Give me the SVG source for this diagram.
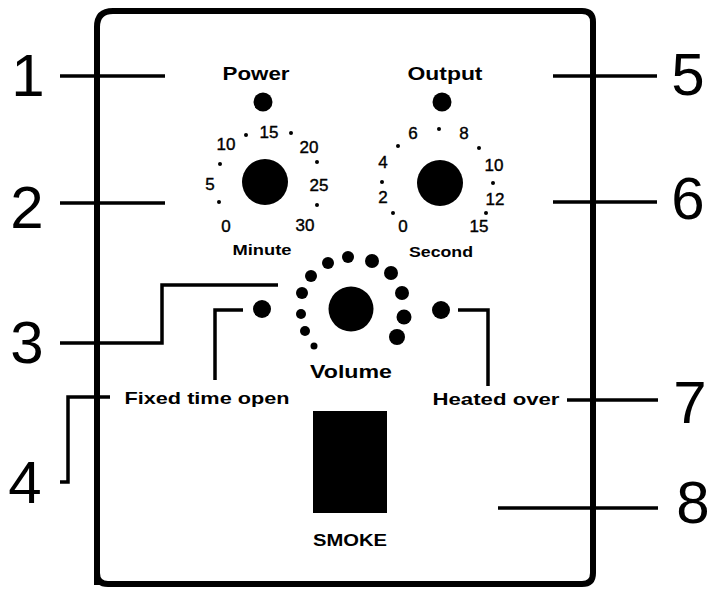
<svg xmlns="http://www.w3.org/2000/svg" width="713" height="589" viewBox="0 0 713 589">
<style>
.lead{fill:none;stroke:#000;stroke-width:3.5}
.num{font-family:"Liberation Sans",Arial,sans-serif;font-size:60px;fill:#000;text-anchor:middle}
.lbl{font-family:"Liberation Sans",Arial,sans-serif;font-weight:bold;fill:#000;text-anchor:middle}
.dig{font-family:"Liberation Sans",Arial,sans-serif;font-size:17px;fill:#000;text-anchor:middle;stroke:#000;stroke-width:0.4}
.tick{fill:#000}
</style>
<rect width="713" height="589" fill="#fff"/>
<g id="panel">
<path d="M97,585 V27 Q97,11 113,11 H582 Q593,11 593,22 V573 Q593,584 582,584 H108 Q97,584 97,573 Z" fill="none" stroke="#000" stroke-width="6"/>
</g>
<g id="connectors">
<line class="lead" x1="60" y1="76" x2="165" y2="76"/>
<line class="lead" x1="60" y1="203" x2="165" y2="203"/>
<polyline class="lead" points="60,343 162,343 162,285 278,285"/>
<polyline class="lead" points="60,482 68,482 68,397 110,397"/>
<polyline class="lead" points="215,380 215,310 243,310"/>
<polyline class="lead" points="458,310 488,310 488,386"/>
<line class="lead" x1="553" y1="76" x2="657" y2="76"/>
<line class="lead" x1="553" y1="202" x2="657" y2="202"/>
<line class="lead" x1="567" y1="400" x2="658" y2="400"/>
<line class="lead" x1="498" y1="508" x2="658" y2="508"/>
</g>
<g id="callouts">
<text class="num" x="28" y="96">1</text>
<text class="num" x="27" y="228">2</text>
<text class="num" x="27" y="363">3</text>
<text class="num" x="25" y="503">4</text>
<text class="num" x="688" y="95">5</text>
<text class="num" x="688" y="219">6</text>
<text class="num" x="690" y="423">7</text>
<text class="num" x="693" y="523">8</text>
</g>
<g id="power">
<text class="lbl" x="256" y="80" font-size="19" textLength="67" lengthAdjust="spacingAndGlyphs">Power</text>
<circle cx="263" cy="102" r="9.5"/>
</g>
<g id="output">
<text class="lbl" x="445" y="80" font-size="19" textLength="75" lengthAdjust="spacingAndGlyphs">Output</text>
<circle cx="442" cy="102" r="9.5"/>
</g>
<g id="minute-dial">
<circle cx="265" cy="182" r="23"/>
<text class="dig" x="269" y="138">15</text>
<text class="dig" x="226" y="150">10</text>
<text class="dig" x="309" y="153">20</text>
<text class="dig" x="210" y="190">5</text>
<text class="dig" x="319" y="191">25</text>
<text class="dig" x="226" y="232">0</text>
<text class="dig" x="305" y="231">30</text>
<circle class="tick" cx="246" cy="135" r="2"/>
<circle class="tick" cx="291" cy="133" r="2"/>
<circle class="tick" cx="220" cy="164" r="2"/>
<circle class="tick" cx="317" cy="162" r="2"/>
<circle class="tick" cx="219" cy="202" r="2"/>
<circle class="tick" cx="317" cy="205" r="2"/>
<text class="lbl" x="262" y="255" font-size="14" textLength="59" lengthAdjust="spacingAndGlyphs">Minute</text>
</g>
<g id="second-dial">
<circle cx="440" cy="183" r="23"/>
<text class="dig" x="413" y="139">6</text>
<text class="dig" x="464" y="139">8</text>
<text class="dig" x="383" y="168">4</text>
<text class="dig" x="494" y="171">10</text>
<text class="dig" x="383" y="203">2</text>
<text class="dig" x="495" y="205">12</text>
<text class="dig" x="403" y="232">0</text>
<text class="dig" x="479" y="232">15</text>
<circle class="tick" cx="439" cy="129" r="2"/>
<circle class="tick" cx="398" cy="146" r="2"/>
<circle class="tick" cx="479" cy="148" r="2"/>
<circle class="tick" cx="382" cy="182" r="2"/>
<circle class="tick" cx="493" cy="183" r="2"/>
<circle class="tick" cx="393" cy="213" r="2"/>
<circle class="tick" cx="486" cy="213" r="2"/>
<text class="lbl" x="441" y="257" font-size="14" textLength="64" lengthAdjust="spacingAndGlyphs">Second</text>
</g>
<g id="volume">
<circle cx="351" cy="309" r="22.5"/>
<circle cx="328" cy="263" r="6"/>
<circle cx="348" cy="257" r="6"/>
<circle cx="372" cy="261" r="7"/>
<circle cx="391" cy="273" r="7"/>
<circle cx="311" cy="276" r="6"/>
<circle cx="302" cy="293" r="6"/>
<circle cx="402" cy="293" r="7"/>
<circle cx="301" cy="314" r="5"/>
<circle cx="404" cy="317" r="7.5"/>
<circle cx="305" cy="331" r="5"/>
<circle cx="397" cy="337" r="8"/>
<circle cx="314" cy="346" r="3.5"/>
<text class="lbl" x="351" y="378" font-size="19" textLength="82" lengthAdjust="spacingAndGlyphs">Volume</text>
</g>
<g id="fixed-time-open">
<circle cx="262" cy="309" r="9"/>
<text class="lbl" x="207" y="404" font-size="17" textLength="165" lengthAdjust="spacingAndGlyphs">Fixed time open</text>
</g>
<g id="heated-over">
<circle cx="441" cy="310" r="9"/>
<text class="lbl" x="496" y="405" font-size="17" textLength="127" lengthAdjust="spacingAndGlyphs">Heated over</text>
</g>
<g id="smoke">
<rect x="313" y="411" width="74" height="102" fill="#000"/>
<text class="lbl" x="350" y="546" font-size="16" textLength="74" lengthAdjust="spacingAndGlyphs">SMOKE</text>
</g>
</svg>
